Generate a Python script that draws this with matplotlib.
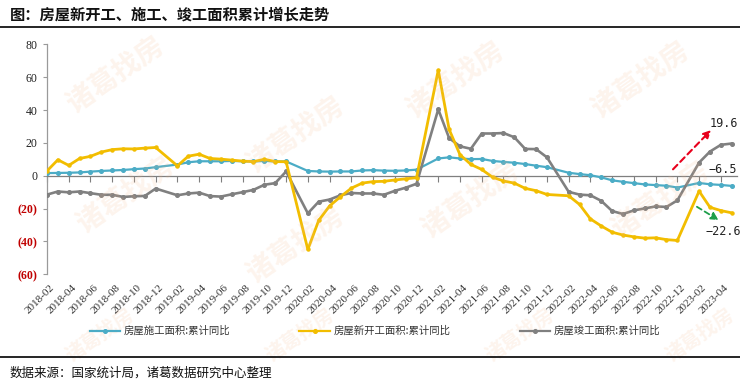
import matplotlib
matplotlib.use('Agg')
import matplotlib.pyplot as plt
from matplotlib.lines import Line2D
import matplotlib.transforms as mtransforms

plt.rcParams['font.family'] = ['Noto Sans CJK SC', 'DejaVu Sans']

# ---------------- data ----------------
periods = ([f"{y}-{m:02d}" for y in range(2018, 2023) for m in range(2, 13)]
           + ["2023-02", "2023-03", "2023-04", "2023-05"])

construction_yoy = [1.6, 1.7, 1.8, 2.0, 2.5, 2.9, 3.2, 3.5, 4.0, 4.4, 5.2,
                    6.8, 8.2, 8.8, 8.8, 8.8, 9.0, 8.8, 8.7, 9.0, 8.7, 8.7,
                    2.9, 2.6, 2.5, 2.6, 2.6, 3.2, 3.4, 3.1, 3.0, 3.2, 3.7,
                    10.5, 11.2, 10.5, 10.1, 10.2, 9.0, 8.4, 7.9, 7.1, 6.1, 5.2,
                    1.8, 1.0, 0.3, -1.0, -2.8, -3.7, -4.5, -5.3, -5.7, -6.1, -7.2,
                    -4.4, -5.2, -5.6, -6.2]

new_start_yoy = [2.9, 9.7, 6.3, 10.5, 11.8, 14.4, 15.9, 16.4, 16.3, 16.8, 17.2,
                 6.0, 11.9, 13.1, 10.5, 10.1, 9.5, 8.9, 8.6, 10.0, 8.6, 8.5,
                 -44.9, -27.2, -18.4, -12.8, -7.6, -4.5, -3.6, -3.4, -2.6, -1.9, -1.2,
                 64.3, 28.2, 12.8, 6.9, 3.8, -0.9, -3.2, -4.5, -7.7, -9.1, -11.4,
                 -12.2, -17.5, -26.3, -30.6, -34.4, -36.1, -37.2, -38.0, -37.8, -38.9, -39.4,
                 -9.4, -19.2, -21.2, -22.6]

completion_yoy = [-11.5, -9.6, -10.1, -9.6, -10.6, -11.6, -11.6, -12.9, -12.5, -12.3, -7.8,
                  -11.9, -10.8, -10.3, -12.4, -12.7, -11.3, -10.0, -8.6, -5.5, -4.5, 2.6,
                  -22.9, -15.8, -14.5, -11.9, -10.5, -10.8, -10.8, -11.6, -9.2, -7.3, -4.9,
                  40.4, 22.9, 17.9, 16.4, 25.7, 25.7, 26.0, 23.4, 16.3, 16.2, 11.2,
                  -9.8, -11.5, -11.9, -15.3, -21.5, -23.3, -21.1, -19.9, -18.7, -19.0, -15.0,
                  8.0, 14.7, 18.8, 19.6]

tick_labels = [f"{y}-{m:02d}" for y in range(2018, 2024) for m in (2, 4, 6, 8, 10, 12)
               if f"{y}-{m:02d}" <= "2023-04"]

series_names = ["房屋施工面积:累计同比", "房屋新开工面积:累计同比", "房屋竣工面积:累计同比"]
yticks = [-60, -40, -20, 0, 20, 40, 60, 80]


def month_index(p):
    y, m = p.split('-')
    return (int(y) - 2018) * 12 + int(m) - 2


x = [month_index(p) for p in periods]
xt = [month_index(p) for p in tick_labels]

# ---------------- figure ----------------
W, H = 740, 385
fig = plt.figure(figsize=(W / 100, H / 100), dpi=100)
fig.patch.set_facecolor('white')

left_px, right_px, top_px, bot_px = 47, 737, 44.3, 274.3
ax = fig.add_axes([left_px / W, 1 - bot_px / H, (right_px - left_px) / W, (bot_px - top_px) / H])
ax.set_facecolor('none')
px_per_month = (731.7 - 47) / 63
ax.set_xlim(0, (right_px - left_px) / px_per_month)
ax.set_ylim(-60, 80)

blue, yellow, gray = '#4BACC6', '#F2BD00', '#808080'
ax.plot(x, construction_yoy, color=blue, lw=1.6, marker='o', ms=2.6, zorder=3)
ax.plot(x, completion_yoy, color=gray, lw=1.9, marker='o', ms=2.6, zorder=4)
ax.plot(x, new_start_yoy, color=yellow, lw=2.0, marker='o', ms=2.2, zorder=5)

for s in ('top', 'right'):
    ax.spines[s].set_visible(False)
ax.spines['bottom'].set_position(('data', 0))
ax.spines['bottom'].set_color('#7f7f7f')
ax.spines['bottom'].set_linewidth(0.9)
ax.spines['left'].set_color('#9a9a9a')
ax.spines['left'].set_linewidth(0.9)

ax.set_yticks(yticks)
ax.set_yticklabels([str(v) if v >= 0 else f"({-v})" for v in yticks],
                   family='Liberation Serif', fontsize=8.5)
for lbl, v in zip(ax.get_yticklabels(), yticks):
    if v < 0:
        lbl.set_color('#C00000')
        lbl.set_fontweight('bold')
    else:
        lbl.set_color('#222222')
ax.tick_params(axis='y', length=3, color='#9a9a9a', pad=4)

ax.set_xticks(xt)
ax.set_xticklabels([])
ax.tick_params(axis='x', length=4, direction='out', color='#7f7f7f')

trans = mtransforms.blended_transform_factory(ax.transData, ax.transAxes)
trans = mtransforms.offset_copy(trans, fig=fig, x=3, y=-9, units='dots')
for xi, lab in zip(xt, tick_labels):
    ax.text(xi, 0, lab, transform=trans, rotation=45, ha='right', va='top',
            rotation_mode='anchor', family='Liberation Serif', fontsize=8, color='#333333',
            clip_on=False)

# annotations
ax.annotate('', xy=(61.1, 27.8), xytext=(57.6, 3.9),
            arrowprops=dict(arrowstyle='-|>', color='#E8001C', lw=1.5,
                            linestyle=(0, (3, 2)), mutation_scale=11, shrinkA=0, shrinkB=0))
ax.annotate('', xy=(61.8, -27.0), xytext=(59.8, -18.9),
            arrowprops=dict(arrowstyle='-|>', color='#1E9E4A', lw=1.3,
                            linestyle=(0, (3, 2)), mutation_scale=11, shrinkA=0, shrinkB=0))
mono = ['DejaVu Sans Mono']
ax.text(62.3, 31.5, '19.6', ha='center', va='center', family=mono, fontsize=8.5, color='#222222')
ax.text(62.2, 3.5, '−6.5', ha='center', va='center', family=mono, fontsize=8.5, color='#222222')
ax.text(62.2, -34.1, '−22.6', ha='center', va='center', family=mono, fontsize=8.5, color='#222222')

# watermark
for wx, wy in [(115, 75), (125, 195), (295, 135), (295, 245), (455, 80), (470, 200),
               (640, 80), (660, 200), (100, 335), (300, 335), (520, 335), (700, 335)]:
    fs = 20 if wy < 300 else 14
    fig.text(wx / W, 1 - wy / H, '诸葛找房', rotation=35, ha='center', va='center',
             fontsize=fs, fontweight='bold', color='#F6B98E', alpha=0.16, zorder=0)

# legend
handles = [Line2D([], [], color=c, lw=1.6, marker='o', ms=2.6) for c in (blue, yellow, gray)]
fig.legend(handles, series_names, loc='center', bbox_to_anchor=(0.507, 1 - 331 / H),
           ncol=3, frameon=False, fontsize=7.5, handlelength=2.9, handletextpad=0.4,
           columnspacing=6.6, labelcolor='#333333')

# title, rules, footnote
fig.text(10 / W, 1 - 15 / H, '图：房屋新开工、施工、竣工面积累计增长走势', ha='left', va='center',
         fontsize=11, fontweight='bold', color='#111111')
fig.add_artist(Line2D([0, 1], [1 - 27 / H, 1 - 27 / H], color='black', lw=1.2))
fig.add_artist(Line2D([0, 1], [1 - 357 / H, 1 - 357 / H], color='black', lw=1.2))
fig.text(10 / W, 1 - 373 / H, '数据来源：国家统计局，诸葛数据研究中心整理', ha='left', va='center',
         fontsize=9, color='#111111')

fig.savefig('out.png', dpi=100, facecolor='white')
